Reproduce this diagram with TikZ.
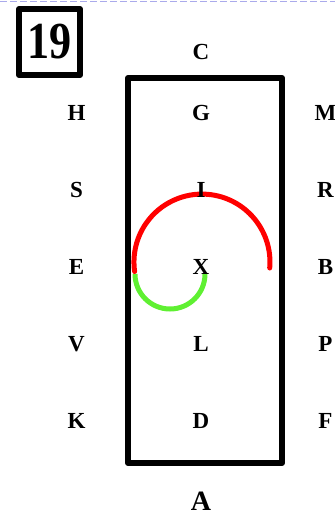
\documentclass[tikz,border=0pt]{standalone}
\usepackage{fontspec}
\setmainfont{Liberation Serif}
\usetikzlibrary{matrix}
\definecolor{arcred}{RGB}{255,0,0}
\definecolor{arcgreen}{RGB}{95,240,50}
\definecolor{toprule}{RGB}{170,170,235}
\tikzset{letter/.style={font=\bfseries\fontsize{23}{23}\selectfont},
  numbox/.style={draw,line width=6pt,inner sep=0pt,minimum width=61pt,minimum height=66pt,font=\bfseries\fontsize{52}{52}\selectfont}}

\begin{document}
\begin{tikzpicture}[x=1pt, y=-1pt, line join=round]
    \useasboundingbox (0,0) rectangle (335,515);
    \draw[toprule, line width=1pt, dash pattern=on 7pt off 3pt] (0,1) -- (335,1);
    \node[numbox] (num) at (49.5,42) {\scalebox{0.85}[1]{19}};
    \draw[line width=6pt] (128,78) rectangle (282,463);
    \draw[arcred, line width=5pt, line cap=round] (269.7,268) arc[start angle=5, end angle=-188, radius=68];
    \draw[arcgreen, line width=5pt] (135,274) arc[start angle=180, end angle=0, radius=35];
    \matrix (grid) [%
      matrix of nodes,
      column sep=0pt,
      row sep=0pt,
      nodes={letter, anchor=center, inner sep=0pt, minimum width=124.5pt, minimum height=77pt},
      matrix anchor=grid-4-2.center
      ] at (201,267)
      {
          & C & \\[-16pt]
        H & G & M \\
        S & I & R \\
        E & X & B \\
        V & L & P \\
        K & D & F \\[3pt]
          & |[font=\bfseries\fontsize{28}{28}\selectfont]| A & \\
      };
\end{tikzpicture}
\end{document}
